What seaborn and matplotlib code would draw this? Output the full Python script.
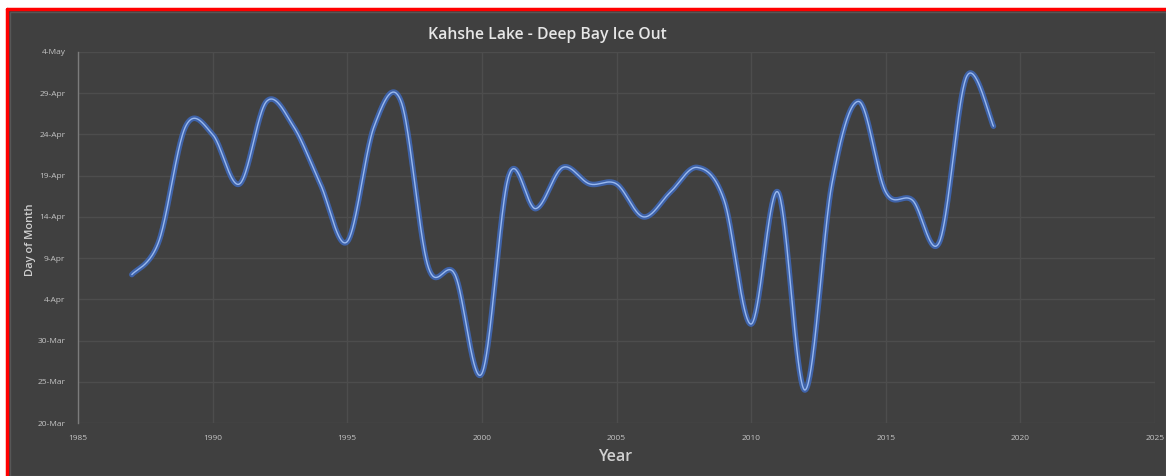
import numpy as np
import pandas as pd
import matplotlib
matplotlib.use("Agg")
import matplotlib.pyplot as plt
from matplotlib.patches import Rectangle
import seaborn as sns

# Ice-out dates, Deep Bay, Kahshe Lake
years = list(range(1987, 2020))
ice_out = [
    "Apr 7", "Apr 11", "Apr 25", "Apr 24", "Apr 18", "Apr 28", "Apr 25",
    "Apr 18", "Apr 11", "Apr 25", "Apr 28", "Apr 8", "Apr 7", "Mar 26",
    "Apr 19", "Apr 15", "Apr 20", "Apr 18", "Apr 18", "Apr 14", "Apr 17",
    "Apr 20", "Apr 16", "Apr 1", "Apr 17", "Mar 24", "Apr 18", "Apr 28",
    "Apr 17", "Apr 16", "Apr 11", "May 1", "Apr 25",
]
y_tick_labels = ["20-Mar", "25-Mar", "30-Mar", "4-Apr", "9-Apr",
                 "14-Apr", "19-Apr", "24-Apr", "29-Apr", "4-May"]
x_ticks = [1985, 1990, 1995, 2000, 2005, 2010, 2015, 2020, 2025]


def day_of_year(label):
    return pd.to_datetime(label + " 2001", format="%b %d %Y").dayofyear


doy = np.array([day_of_year(s) for s in ice_out], dtype=float)
y_ticks = [day_of_year(s.split("-")[1] + " " + s.split("-")[0]) for s in y_tick_labels]
yr = np.array(years, dtype=float)


def smooth_curve(x, y, steps=40):
    """Cubic Bezier smoothing through every point (spreadsheet-style smoothed line)."""
    px = np.concatenate([[x[0]], x, [x[-1]]])
    py = np.concatenate([[y[0]], y, [y[-1]]])
    xs, ys = [], []
    t = np.linspace(0, 1, steps, endpoint=False)
    for i in range(1, len(px) - 2):
        p0 = np.array([px[i], py[i]])
        p3 = np.array([px[i + 1], py[i + 1]])
        c1 = p0 + (np.array([px[i + 1], py[i + 1]]) - np.array([px[i - 1], py[i - 1]])) / 6
        c2 = p3 - (np.array([px[i + 2], py[i + 2]]) - np.array([px[i], py[i]])) / 6
        b = ((1 - t) ** 3)[:, None] * p0 + (3 * (1 - t) ** 2 * t)[:, None] * c1 \
            + (3 * (1 - t) * t ** 2)[:, None] * c2 + (t ** 3)[:, None] * p3
        xs.append(b[:, 0])
        ys.append(b[:, 1])
    xs.append([x[-1]])
    ys.append([y[-1]])
    return np.concatenate(xs), np.concatenate(ys)


sx, sy = smooth_curve(yr, doy)
curve = pd.DataFrame({"Year": sx, "Day": sy})

sns.set_theme(style="dark")
plt.rcParams["font.family"] = ["Open Sans", "DejaVu Sans"]

W, H = 1166, 476
fig = plt.figure(figsize=(W / 100, H / 100), dpi=100, facecolor="white")

# dark panel with red outline
fig.patches.append(Rectangle((7 / W, 0), 1 - 7 / W, 1 - 9 / H, transform=fig.transFigure,
                             facecolor="#404040", edgecolor="none", zorder=0))
fig.patches.append(Rectangle((10 / W, 0), 1 - 10 / W, 1 - 12 / H, transform=fig.transFigure,
                             facecolor="none", edgecolor="#575757", linewidth=1, zorder=1))
fig.add_artist(plt.Line2D([7 / W, 1], [1 - 9 / H, 1 - 9 / H], transform=fig.transFigure,
                          color="#ff0000", linewidth=2.5, zorder=2))
fig.add_artist(plt.Line2D([7 / W, 7 / W], [0, 1 - 9 / H], transform=fig.transFigure,
                          color="#ff0000", linewidth=2.5, zorder=2))

left, right, top, bottom = 78, 1155, 52, 423
ax = fig.add_axes([left / W, 1 - bottom / H, (right - left) / W, (bottom - top) / H])
ax.set_zorder(5)
ax.set_facecolor("#404040")

# glow + core line
sns.lineplot(data=curve, x="Year", y="Day", sort=False, estimator=None, ax=ax,
             color="#3f6cc4", linewidth=4.0, alpha=0.8)
sns.lineplot(data=curve, x="Year", y="Day", sort=False, estimator=None, ax=ax,
             color="#98b8ef", linewidth=1.0)

ax.set_xlim(x_ticks[0], x_ticks[-1])
ax.set_ylim(y_ticks[0], y_ticks[-1])
ax.set_xticks(x_ticks)
ax.set_xticklabels([str(v) for v in x_ticks])
ax.set_yticks(y_ticks)
ax.set_yticklabels(y_tick_labels)
ax.tick_params(axis="both", colors="#c4c4c4", labelsize=6, length=0, pad=9)
ax.grid(True, color="#4d4d4d", linewidth=1)
for side in ["top", "right", "bottom"]:
    ax.spines[side].set_visible(False)
ax.spines["left"].set_visible(True)
ax.spines["left"].set_color("#7c7c7c")
ax.spines["left"].set_linewidth(1)
ax.set_xlabel("")
ax.set_ylabel("")

fig.text(547 / W, 1 - 35 / H, "Kahshe Lake - Deep Bay Ice Out", ha="center", va="center",
         color="#e6e6e6", fontsize=11.3, fontweight="semibold")
fig.text(615 / W, 1 - 457 / H, "Year", ha="center", va="center",
         color="#d0d0d0", fontsize=11.5, fontweight="semibold")
fig.text(31 / W, 1 - 240 / H, "Day of Month", ha="center", va="center", rotation=90,
         color="#d0d0d0", fontsize=8, fontweight="semibold")

fig.savefig("out.png", dpi=100, facecolor=fig.get_facecolor())
